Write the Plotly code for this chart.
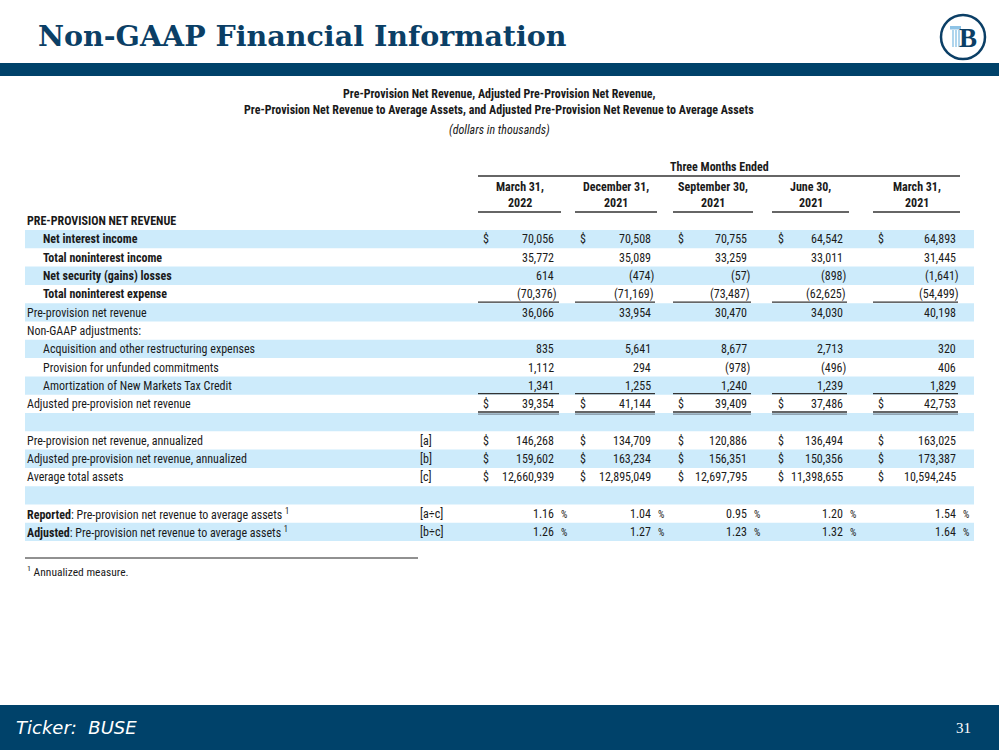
import plotly.graph_objects as go

# ---------------- data ----------------
page_title = "Non-GAAP Financial Information"
table_title_1 = "Pre-Provision Net Revenue, Adjusted Pre-Provision Net Revenue,"
table_title_2 = "Pre-Provision Net Revenue to Average Assets, and Adjusted Pre-Provision Net Revenue to Average Assets"
units_note = "(dollars in thousands)"
group_header = "Three Months Ended"
periods = ["March 31,<br>2022", "December 31,<br>2021", "September 30,<br>2021",
           "June 30,<br>2021", "March 31,<br>2021"]

row_labels = [
    "PRE-PROVISION NET REVENUE",
    "Net interest income",
    "Total noninterest income",
    "Net security (gains) losses",
    "Total noninterest expense",
    "Pre-provision net revenue",
    "Non-GAAP adjustments:",
    "Acquisition and other restructuring expenses",
    "Provision for unfunded commitments",
    "Amortization of New Markets Tax Credit",
    "Adjusted pre-provision net revenue",
    "",
    "Pre-provision net revenue, annualized",
    "Adjusted pre-provision net revenue, annualized",
    "Average total assets",
    "",
    "<b>Reported</b>: Pre-provision net revenue to average assets <sup>1</sup>",
    "<b>Adjusted</b>: Pre-provision net revenue to average assets <sup>1</sup>",
]
row_refs = ["", "", "", "", "", "", "", "", "", "", "", "",
            "[a]", "[b]", "[c]", "", "[a÷c]", "[b÷c]"]

net_interest_income = [70056, 70508, 70755, 64542, 64893]
total_noninterest_income = [35772, 35089, 33259, 33011, 31445]
net_security_gains_losses = [614, -474, -57, -898, -1641]
total_noninterest_expense = [-70376, -71169, -73487, -62625, -54499]
pre_provision_net_revenue = [36066, 33954, 30470, 34030, 40198]
acquisition_restructuring = [835, 5641, 8677, 2713, 320]
provision_unfunded = [1112, 294, -978, -496, 406]
amortization_nmtc = [1341, 1255, 1240, 1239, 1829]
adjusted_ppnr = [39354, 41144, 39409, 37486, 42753]
ppnr_annualized = [146268, 134709, 120886, 136494, 163025]
adjusted_ppnr_annualized = [159602, 163234, 156351, 150356, 173387]
average_total_assets = [12660939, 12895049, 12697795, 11398655, 10594245]
reported_ppnr_to_assets_pct = [1.16, 1.04, 0.95, 1.20, 1.54]
adjusted_ppnr_to_assets_pct = [1.26, 1.27, 1.23, 1.32, 1.64]

row_values = [None, net_interest_income, total_noninterest_income, net_security_gains_losses,
              total_noninterest_expense, pre_provision_net_revenue, None,
              acquisition_restructuring, provision_unfunded, amortization_nmtc, adjusted_ppnr,
              None, ppnr_annualized, adjusted_ppnr_annualized, average_total_assets, None,
              reported_ppnr_to_assets_pct, adjusted_ppnr_to_assets_pct]
row_kind = ["head", "bold", "bold", "bold", "bold", "plain", "plain", "indent", "indent", "indent",
            "plain", "blank", "plain", "plain", "plain", "blank", "pct", "pct"]
dollar_rows = [1, 10, 12, 13, 14]
footnote = "<sup>1</sup> Annualized measure."
footer_text = "<i>Ticker:&nbsp;&nbsp;BUSE</i>"
page_number = "31"

# ---------------- styling ----------------
NAVY = "#0B3F66"
BAND = "#CDEBFB"
TXT = "#1A1A1A"
FONT = "Liberation Sans Narrow, Arial Narrow, Roboto Condensed, Liberation Sans, sans-serif"
FS = 12

dollar_x = [481, 578, 676, 776, 876]
value_right = [556, 653, 749, 845, 958]
seg_left = [478, 575, 673, 772, 873]
seg_right = [561, 657, 753, 849, 960]
ref_x = 418
band_x0, band_x1 = 25, 974
row_top0, row_h = 211.7, 18.3


def fmt(v, pct=False):
    if pct:
        return f"{v:.2f}"
    s = f"{abs(v):,}"
    return f"({s})" if v < 0 else s


fig = go.Figure()
fig.add_trace(go.Scatter(x=[0, 999], y=[0, 750], mode="markers",
                         marker=dict(opacity=0), hoverinfo="skip", showlegend=False))

shapes = []
ann = []


def text(x, y, t, size=FS, anchor="left", color=TXT, family=FONT, bold=False):
    if bold:
        t = f"<b>{t}</b>"
    ann.append(dict(x=x, y=y, xref="x", yref="y", text=t, showarrow=False,
                    xanchor=anchor, yanchor="middle", font=dict(size=size, color=color, family=family)))


# header band & title
shapes.append(dict(type="rect", xref="x", yref="y", x0=0, x1=999, y0=63, y1=76,
                   fillcolor="#00426A", line=dict(width=0), layer="below"))
text(36, 36, page_title, size=28.5, color=NAVY,
     family="DejaVu Serif, Liberation Serif, serif", bold=True)

# logo
shapes.append(dict(type="circle", xref="x", yref="y", x0=941, x1=985, y0=15, y1=59,
                   line=dict(color=NAVY, width=2.5), fillcolor="white"))
text(968, 38, "B", size=27, color=NAVY, family="Liberation Serif, serif", bold=True, anchor="center")
for lx in [953, 956, 959]:
    shapes.append(dict(type="line", xref="x", yref="y", x0=lx, x1=lx, y0=30, y1=47,
                       line=dict(color="#8EC3E6", width=1.4)))
shapes.append(dict(type="rect", xref="x", yref="y", x0=950, x1=961, y0=26, y1=29.5,
                   fillcolor="#8EC3E6", line=dict(width=0)))

# table titles
text(499, 94, table_title_1, bold=True, anchor="center")
text(499, 110, table_title_2, bold=True, anchor="center")
text(499, 130, f"<i>{units_note}</i>", anchor="center")
text((seg_left[0] + seg_right[-1]) / 2, 167, group_header, bold=True, anchor="center")
shapes.append(dict(type="line", xref="x", yref="y", x0=seg_left[0], x1=seg_right[-1], y0=176, y1=176,
                   line=dict(color="#333333", width=1.6)))
for j, p in enumerate(periods):
    l1, l2 = p.split("<br>")
    cx = (seg_left[j] + seg_right[j]) / 2
    text(cx, 187, l1, bold=True, anchor="center")
    text(cx, 203, l2, bold=True, anchor="center")
    shapes.append(dict(type="line", xref="x", yref="y", x0=seg_left[j], x1=seg_right[j], y0=212, y1=212,
                       line=dict(color="#333333", width=1.6)))

# rows
for i, lab in enumerate(row_labels):
    top = row_top0 + row_h * i
    yc = top + row_h / 2 + 0.3
    if i % 2 == 1:
        shapes.append(dict(type="rect", xref="x", yref="y", x0=band_x0, x1=band_x1, y0=top, y1=top + row_h,
                           fillcolor=BAND, line=dict(width=0), layer="below"))
    kind = row_kind[i]
    if kind == "head":
        text(25, yc, lab, bold=True)
    elif kind == "bold":
        text(41, yc, lab, bold=True)
    elif kind == "indent":
        text(41, yc, lab)
    elif kind in ("plain", "pct"):
        text(25, yc, lab)
    if row_refs[i]:
        text(ref_x, yc, row_refs[i])
    vals = row_values[i]
    if vals is not None:
        for j, v in enumerate(vals):
            if kind == "pct":
                text(value_right[j], yc, fmt(v, pct=True), anchor="right")
                text(value_right[j] + 3, yc + 0.5, "%", size=10, anchor="left")
            else:
                shown = fmt(v)
                if shown.startswith("("):
                    text(value_right[j] + 3, yc, shown, anchor="right")
                else:
                    text(value_right[j], yc, shown, anchor="right")
            if i in dollar_rows:
                text(dollar_x[j], yc, "$")

# underline rules
for i_rule, double in [(4, False), (9, False), (10, True)]:
    yb = row_top0 + row_h * (i_rule + 1) - 1
    for j in range(5):
        shapes.append(dict(type="line", xref="x", yref="y", x0=seg_left[j], x1=seg_right[j] - 2,
                           y0=yb, y1=yb, line=dict(color="#333333", width=1.3)))
        if double:
            shapes.append(dict(type="line", xref="x", yref="y", x0=seg_left[j], x1=seg_right[j] - 2,
                               y0=yb + 2.2, y1=yb + 2.2, line=dict(color="#7D8C9A", width=1.2)))

# footnote
shapes.append(dict(type="line", xref="x", yref="y", x0=25, x1=418, y0=558, y1=558,
                   line=dict(color="#222222", width=1)))
text(25, 571, footnote, size=11.5)

# footer
shapes.append(dict(type="rect", xref="x", yref="y", x0=0, x1=999, y0=705, y1=750,
                   fillcolor="#00426A", line=dict(width=0), layer="below"))
text(14, 727, footer_text, size=18, color="white", family="DejaVu Sans, Verdana, sans-serif")
text(973, 728, page_number, size=15, color="white", family="Liberation Serif, serif", anchor="right")

fig.update_layout(
    width=999, height=750, margin=dict(l=0, r=0, t=0, b=0),
    paper_bgcolor="white", plot_bgcolor="white",
    xaxis=dict(range=[0, 999], visible=False, fixedrange=True),
    yaxis=dict(range=[750, 0], visible=False, fixedrange=True),
    shapes=shapes, annotations=ann, showlegend=False,
)
fig.write_html("out.html", config={"displayModeBar": False},
               post_script="document.body.style.margin='0';document.body.style.overflow='hidden';")
